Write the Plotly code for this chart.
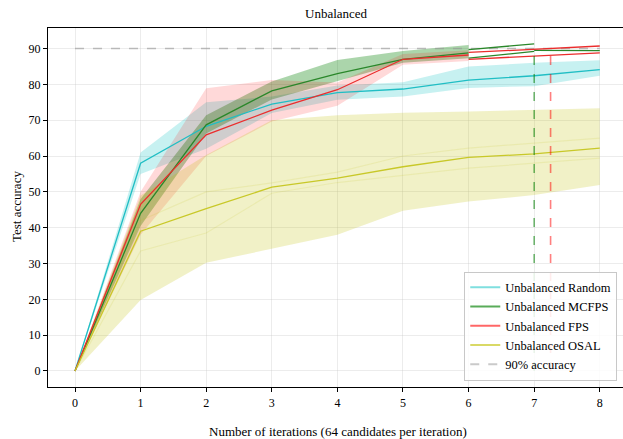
import plotly.graph_objects as go

iters = [0, 1, 2, 3, 4, 5, 6, 7, 8]
band_iters = [0, 1, 2, 3, 4, 5, 6]

random_mean = [0, 58.0, 68.3, 74.5, 77.7, 78.7, 81.2, 82.4, 84.1]
random_lo = [0, 55.0, 62.0, 72.0, 75.7, 76.6, 79.0, 79.5, 82.4]
random_hi = [0, 61.0, 75.0, 76.6, 79.7, 80.6, 85.0, 86.0, 86.7]

mcfps_mean = [0, 44.0, 68.7, 78.2, 83.0, 87.0, 88.8]
mcfps_lo = [0, 40.5, 66.3, 75.8, 81.0, 86.0, 87.3]
mcfps_hi = [0, 48.0, 71.4, 80.8, 86.8, 89.3, 91.0]
mcfps_tail_x = [6, 7]
mcfps_tail_hi = [89.7, 91.3]
mcfps_tail_lo = [87.3, 89.2]
mcfps_end_x = [7, 8]
mcfps_end = [89.5, 89.4]

fps_mean = [0, 46.5, 65.9, 72.8, 78.5, 87.0, 88.2]
fps_lo = [0, 38.0, 60.0, 69.6, 74.0, 85.5, 86.5]
fps_hi = [0, 50.0, 78.9, 81.2, 80.5, 88.5, 89.5]
fps_tail_x = [6, 7, 8]
fps_tail_hi = [88.9, 89.9, 90.7]
fps_tail_lo = [87.0, 88.0, 88.8]

osal_mean = [0, 39.0, 45.3, 51.3, 53.8, 57.0, 59.6, 60.6, 62.2]
osal_lo = [0, 19.8, 30.2, 34.0, 38.0, 44.7, 47.3, 49.1, 51.9]
osal_hi = [0, 49.0, 60.3, 70.0, 71.4, 72.1, 72.4, 72.9, 73.3]
osal_run_a = [0, 33.5, 38.5, 49.6, 52.6, 54.7, 56.6, 58.0, 59.4]
osal_run_b = [0, 42.0, 50.0, 52.5, 55.5, 60.0, 62.2, 63.6, 65.0]

target_x = [0, 8]
target_y = [90, 90]
mcfps_cross = 7.0
fps_cross = 7.25

SERIF = "Liberation Serif"

fig = go.Figure()


def band(x, lo, hi, color):
    fig.add_trace(go.Scatter(
        x=list(x) + list(x)[::-1], y=list(hi) + list(lo)[::-1],
        fill="toself", fillcolor=color, line=dict(width=0),
        mode="lines", showlegend=False, hoverinfo="skip"))


def line(x, y, color, width=1.3, dash=None):
    fig.add_trace(go.Scatter(
        x=x, y=y, mode="lines", showlegend=False,
        line=dict(color=color, width=width, dash=dash)))


band(iters, random_lo, random_hi, "rgba(0,191,191,0.22)")
band(band_iters, mcfps_lo, mcfps_hi, "rgba(0,128,0,0.33)")
band(band_iters, fps_lo, fps_hi, "rgba(255,0,0,0.15)")
band(iters, osal_lo, osal_hi, "rgba(191,191,0,0.22)")

line(iters, osal_run_a, "rgba(191,191,0,0.12)", 1.2)
line(iters, osal_run_b, "rgba(191,191,0,0.12)", 1.2)

line(target_x, target_y, "rgba(150,150,150,0.6)", 1.5, "dash")

line(iters, random_mean, "rgb(32,190,196)")
line(band_iters, mcfps_mean, "rgb(42,135,42)")
line(mcfps_tail_x, mcfps_tail_hi, "rgb(42,135,42)")
line(mcfps_tail_x, mcfps_tail_lo, "rgb(42,135,42)")
line(mcfps_end_x, mcfps_end, "rgb(42,135,42)")
line(band_iters, fps_mean, "rgb(235,45,45)")
line(fps_tail_x, fps_tail_hi, "rgb(235,45,45)")
line(fps_tail_x, fps_tail_lo, "rgb(235,45,45)")
line(iters, osal_mean, "rgb(200,200,40)")

line([mcfps_cross, mcfps_cross], [0, 90], "rgba(0,128,0,0.55)", 1.6, "dash")
line([fps_cross, fps_cross], [0, 90], "rgba(255,0,0,0.5)", 1.6, "dash")

legend_items = [
    ("Unbalanced Random", "rgba(0,191,191,0.5)", None),
    ("Unbalanced MCFPS", "rgba(0,128,0,0.65)", None),
    ("Unbalanced FPS", "rgba(255,0,0,0.6)", None),
    ("Unbalanced OSAL", "rgba(191,191,0,0.6)", None),
    ("90% accuracy", "rgba(150,150,150,0.5)", "dash"),
]
for name, col, dash in legend_items:
    fig.add_trace(go.Scatter(x=[None], y=[None], mode="lines", name=name,
                             line=dict(color=col, width=2, dash=dash)))

axis_common = dict(
    showgrid=True, gridcolor="rgba(200,200,200,0.35)", gridwidth=1,
    zeroline=False, showline=True, linecolor="black", linewidth=1.2,
    ticks="outside", ticklen=4, tickcolor="black", automargin=False,
    tickfont=dict(family=SERIF, size=12, color="black"),
)

W, H = 623, 439
L, R, T, B = 48, 0, 28, 52

fig.update_layout(
    width=W, height=H,
    margin=dict(l=L, r=R, t=T, b=B, autoexpand=False),
    paper_bgcolor="white", plot_bgcolor="white",
    font=dict(family=SERIF, color="black"),
    xaxis=dict(range=[-0.4116, 8.354], tickmode="array", tickvals=iters,
               mirror=True, **axis_common),
    yaxis=dict(range=[-4.47, 95.73], tickmode="array",
               tickvals=[0, 10, 20, 30, 40, 50, 60, 70, 80, 90],
               **axis_common),
    legend=dict(x=0.99, xanchor="right", y=0.018, yanchor="bottom",
                bgcolor="rgba(255,255,255,0.85)", bordercolor="rgba(200,200,200,1)",
                borderwidth=1, font=dict(family=SERIF, size=12.5, color="black"),
                tracegroupgap=0),
    showlegend=True,
    annotations=[
        dict(text="Unbalanced", x=336, y=H - 14, xref="paper", yref="paper",
             xanchor="center", yanchor="middle", showarrow=False,
             font=dict(family=SERIF, size=13, color="black")),
        dict(text="Number of iterations (64 candidates per iteration)", x=338,
             y=H - 432, xref="paper", yref="paper", xanchor="center",
             yanchor="middle", showarrow=False,
             font=dict(family=SERIF, size=13, color="black")),
        dict(text="Test accuracy", x=16, y=H - 207, xref="paper", yref="paper",
             xanchor="center", yanchor="middle", textangle=-90, showarrow=False,
             font=dict(family=SERIF, size=13, color="black")),
    ],
)

# convert pixel positions of annotations to paper coordinates
pw, ph = W - L - R, H - T - B
for a in fig.layout.annotations:
    a.x = (a.x - L) / pw
    a.y = (a.y - B) / ph

fig.write_html("out.html", config={"displayModeBar": False},
               post_script="document.body.style.margin='0';"
                           "document.body.style.overflow='hidden';")
